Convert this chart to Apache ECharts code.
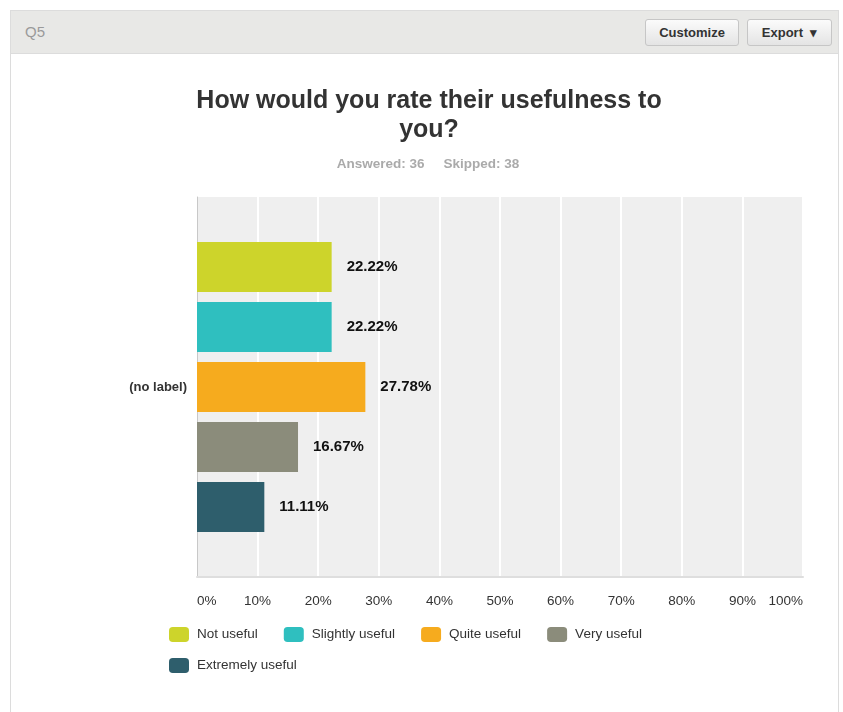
<!DOCTYPE html>
<html>
<head>
<meta charset="utf-8">
<script src="https://cdn.jsdelivr.net/npm/echarts@6/dist/echarts.min.js"></script>
<style>
  html, body { margin: 0; padding: 0; background: #fff; }
  body { width: 843px; height: 712px; position: relative; overflow: hidden; font-family: "Liberation Sans", Arial, sans-serif; }
  .panel { position: absolute; left: 10px; top: 10px; width: 829px; height: 710px; border: 1px solid #dcdcdc; box-sizing: border-box; }
  .head { position: absolute; left: 10px; top: 10px; width: 829px; height: 44px; background: #e8e8e6; border: 1px solid #dcdcdc; box-sizing: border-box; }
  .q { position: absolute; left: 14px; top: 12px; font-size: 15px; color: #9a9a9a; }
  .btn { position: absolute; top: 8px; height: 27px; box-sizing: border-box; border: 1px solid #c6c6c6; border-radius: 3px;
         background: linear-gradient(#fbfbfb, #e4e4e4); font-size: 13px; font-weight: bold; color: #333; line-height: 25px; text-align: center; }
  #main { position: absolute; left: 0; top: 0; width: 843px; height: 712px; }
</style>
</head>
<body>
<div class="panel"></div>
<div class="head">
  <div class="q">Q5</div>
  <div class="btn" style="left:634px;width:94px;">Customize</div>
  <div class="btn" style="left:736px;width:85px;">Export &nbsp;&#9662;</div>
</div>
<div id="main"></div>
<script>
// 数据
var categories = ['(no label)'];
var seriesNames = ['Not useful', 'Slightly useful', 'Quite useful', 'Very useful', 'Extremely useful'];
var seriesValues = [22.22, 22.22, 27.78, 16.67, 11.11];
var colorList = ['#cdd42b', '#2fbfbf', '#f6ab1e', '#8b8c7b', '#2e5e6c'];
var xTicks = [0, 10, 20, 30, 40, 50, 60, 70, 80, 90, 100];

var font = '"Liberation Sans", Arial, sans-serif';
var series = [];
for (var i = 0; i < seriesNames.length; i++) {
    series.push({
        name: seriesNames[i],
        type: 'bar',
        data: [seriesValues[i]],
        barWidth: 50,
        barGap: '20%',
        itemStyle: { color: colorList[i] },
        label: {
            show: true,
            position: 'right',
            distance: 15,
            formatter: function (p) { return p.value.toFixed(2) + '%'; },
            color: '#111',
            fontWeight: 'bold',
            fontSize: 15,
            fontFamily: font
        }
    });
}

var myChart = echarts.init(document.getElementById('main'));
myChart.setOption({
    animation: false,
    title: [{
        text: 'How would you rate their usefulness to\nyou?',
        left: 424,
        textAlign: 'center',
        top: 82,
        textStyle: { fontSize: 25, fontWeight: 'bold', color: '#333', lineHeight: 29, fontFamily: font }
    }, {
        text: 'Answered: 36     Skipped: 38',
        left: 423,
        textAlign: 'center',
        top: 152,
        textStyle: { fontSize: 13.5, fontWeight: 'bold', color: '#aaa', fontFamily: font }
    }],
    legend: [{
        data: seriesNames.slice(0, 4),
        left: 164,
        top: 622,
        icon: 'roundRect',
        itemWidth: 20,
        itemHeight: 15,
        itemGap: 26,
        textStyle: { fontSize: 13.5, color: '#333', fontFamily: font, padding: [0, 0, 0, 3] }
    }, {
        data: seriesNames.slice(4),
        left: 164,
        top: 653,
        icon: 'roundRect',
        itemWidth: 20,
        itemHeight: 15,
        textStyle: { fontSize: 13.5, color: '#333', fontFamily: font, padding: [0, 0, 0, 3] }
    }],
    grid: {
        left: 197,
        right: 40,
        top: 197,
        bottom: 135,
        show: true,
        backgroundColor: '#efefef',
        borderWidth: 0
    },
    xAxis: {
        type: 'value',
        min: xTicks[0],
        max: xTicks[xTicks.length - 1],
        interval: 10,
        axisLine: { show: true, lineStyle: { color: '#dedede', width: 2 } },
        axisTick: { show: false },
        splitLine: { lineStyle: { color: '#fff', width: 2 } },
        axisLabel: {
            formatter: '{value}%',
            margin: 17,
            fontSize: 13.5,
            color: '#333',
            fontFamily: font,
            alignMinLabel: 'left',
            alignMaxLabel: 'right'
        }
    },
    yAxis: {
        type: 'category',
        data: categories,
        axisTick: { show: false },
        axisLine: { lineStyle: { color: '#c8c8c8', width: 1 } },
        axisLabel: { fontSize: 13, fontWeight: 'bold', color: '#333', margin: 10, fontFamily: font }
    },
    series: series
});
</script>
</body>
</html>
